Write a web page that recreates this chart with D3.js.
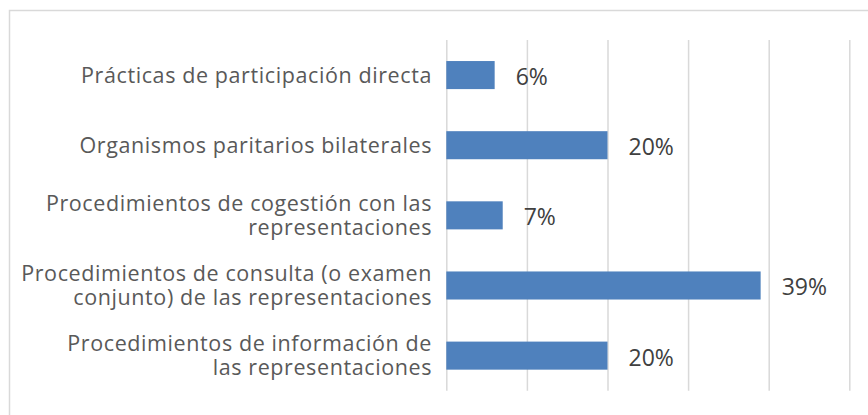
<!DOCTYPE html>
<html>
<head>
<meta charset="utf-8">
<script src="https://cdn.jsdelivr.net/npm/d3@7"></script>
<style>
  body { margin: 0; background: #fff; }
  svg { display: block; }
</style>
</head>
<body>
<div class="chart"></div>
<script>
// Horizontal bar chart: share of participation procedures
var svgWidth = 868;
var svgHeight = 415;

// data
var categories = [
  "Prácticas de participación directa",
  "Organismos paritarios bilaterales",
  "Procedimientos de cogestión con las\nrepresentaciones",
  "Procedimientos de consulta (o examen\nconjunto) de las representaciones",
  "Procedimientos de información de\nlas representaciones"
];
var values = [0.06, 0.20, 0.07, 0.39, 0.20];
var gridTicks = [0, 0.1, 0.2, 0.3, 0.4, 0.5];

var plot = { left: 446.3, right: 849.3, top: 40, bottom: 390.7 };
var fontFamily = "'Open Sans', 'DejaVu Sans', sans-serif";

var svg = d3.select(".chart")
  .append("svg")
  .attr("width", svgWidth)
  .attr("height", svgHeight);

// chart frame
svg.append("rect")
  .attr("x", 9.5)
  .attr("y", 10.5)
  .attr("width", svgWidth)
  .attr("height", svgHeight)
  .attr("fill", "none")
  .attr("stroke", "#d9d9d9")
  .attr("stroke-width", 1.5);

var x = d3.scaleLinear()
  .domain([0, 0.5])
  .range([plot.left, plot.right]);

var y = d3.scaleBand()
  .domain(categories)
  .range([plot.top, plot.bottom])
  .paddingInner(0.6)
  .paddingOuter(0.3);

// vertical gridlines
var grid = svg.append("g")
  .attr("transform", "translate(0," + plot.bottom + ")")
  .call(d3.axisBottom(x)
    .tickValues(gridTicks)
    .tickSize(-(plot.bottom - plot.top))
    .tickFormat(""));
grid.select(".domain").remove();
grid.selectAll(".tick line")
  .attr("stroke", "#d9d9d9")
  .attr("stroke-width", 1.5);

// bars
svg.selectAll(".bar")
  .data(values)
  .enter().append("rect")
  .attr("class", "bar")
  .attr("x", x(0))
  .attr("y", function(d, i) { return y(categories[i]); })
  .attr("width", function(d) { return x(d) - x(0); })
  .attr("height", y.bandwidth())
  .attr("fill", "#4f81bd");

// value labels
svg.selectAll(".value")
  .data(values)
  .enter().append("text")
  .attr("class", "value")
  .attr("x", function(d) { return x(d) + 21; })
  .attr("y", function(d, i) { return y(categories[i]) + y.bandwidth() / 2 + 10; })
  .attr("font-family", fontFamily)
  .attr("font-size", 23)
  .attr("fill", "#404040")
  .text(function(d) { return d3.format(".0%")(d); });

// category labels (right aligned, wrapped)
var lineHeight = 23.5;
var labels = svg.selectAll(".cat")
  .data(categories)
  .enter().append("text")
  .attr("class", "cat")
  .attr("text-anchor", "end")
  .attr("font-family", fontFamily)
  .attr("font-size", 21.5)
  .attr("letter-spacing", 0.6)
  .attr("fill", "#595959");

labels.each(function(d) {
  var lines = d.split("\n");
  var cy = y(d) + y.bandwidth() / 2;
  var t = d3.select(this);
  lines.forEach(function(line, i) {
    t.append("tspan")
      .attr("x", 432)
      .attr("y", cy + 7.5 + (i - (lines.length - 1) / 2) * lineHeight)
      .text(line);
  });
});
</script>
</body>
</html>
